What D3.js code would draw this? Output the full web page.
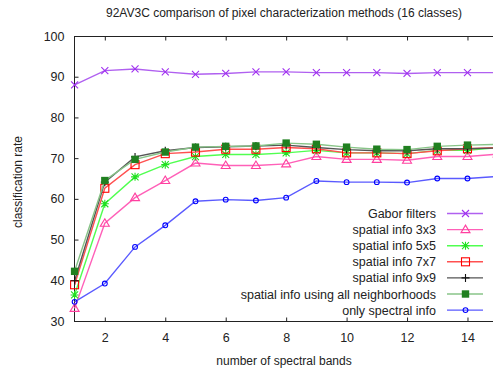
<!DOCTYPE html>
<html><head><meta charset="utf-8">
<script src="https://cdn.jsdelivr.net/npm/d3@7"></script>
<style>body{margin:0;background:#fff}svg{display:block}text{font-family:"Liberation Sans",Arial,sans-serif;fill:#222}</style>
</head><body><svg id="c" width="493" height="371"></svg>
<script>
const bands = [1,2,3,4,5,6,7,8,9,10,11,12,13,14,15];
const gabor    = [88.0,91.5,91.9,91.2,90.6,90.8,91.2,91.2,91.0,91.0,91.0,90.8,91.0,91.0,91.0];
const sp3x3    = [33.1,54.0,60.3,64.5,68.8,68.2,68.2,68.6,70.4,69.7,69.7,69.5,70.4,70.4,71.0];
const sp5x5    = [36.4,58.8,65.4,68.4,70.4,70.9,70.9,71.3,71.9,71.3,71.3,71.1,71.9,71.9,72.6];
const sp7x7    = [38.9,62.6,68.4,71.1,71.5,72.2,72.2,72.6,72.3,71.3,71.3,71.1,71.8,72.3,72.6];
const sp9x9    = [39.9,64.1,70.3,71.8,72.6,72.8,73.0,73.2,72.6,72.1,71.8,71.8,72.3,72.3,72.5];
const spAll    = [42.2,64.5,69.7,71.5,72.7,72.9,73.0,73.7,73.4,72.7,72.2,72.1,72.9,73.2,73.4];
const spectral = [34.7,39.2,48.2,53.5,59.4,59.8,59.6,60.3,64.4,64.1,64.1,64.0,65.0,65.0,65.5];
const seriesNames = ["Gabor filters","spatial info 3x3","spatial info 5x5","spatial info 7x7","spatial info 9x9","spatial info using all neighborhoods","only spectral info"];
const xTicks = [2,4,6,8,10,12,14];
const yTicks = [30,40,50,60,70,80,90,100];
const title = "92AV3C comparison of pixel characterization methods (16 classes)";
const xLabel = "number of spectral bands";
const yLabel = "classification rate";

const styles = [
  {line:"#b060f0", mark:"#a030f0", sym:"x"},
  {line:"#ff60b8", mark:"#ff40a0", sym:"tri"},
  {line:"#50ff50", mark:"#20e020", sym:"star"},
  {line:"#ff5050", mark:"#ff0000", sym:"sq"},
  {line:"#555555", mark:"#111111", sym:"plus"},
  {line:"#88c488", mark:"#208020", sym:"fsq"},
  {line:"#5a5aff", mark:"#0000ff", sym:"circ"}
];
const data = [gabor,sp3x3,sp5x5,sp7x7,sp9x9,spAll,spectral];

const svg = d3.select("#c");
const x = d3.scaleLinear().domain([1,15]).range([74.6,497.7]);
const y = d3.scaleLinear().domain([30,100]).range([321,36]);

// frame
svg.append("line").attr("x1",74).attr("x2",493).attr("y1",36.5).attr("y2",36.5).attr("stroke","#222");
svg.append("line").attr("x1",74).attr("x2",493).attr("y1",321.5).attr("y2",321.5).attr("stroke","#222");
svg.append("line").attr("x1",74.5).attr("x2",74.5).attr("y1",36).attr("y2",322).attr("stroke","#222");

const xAxis = svg.append("g").attr("transform","translate(0,321.5)")
  .call(d3.axisBottom(x).tickValues(xTicks).tickSize(-4).tickPadding(12).tickFormat(d3.format("d")));
const xAxisTop = svg.append("g").attr("transform","translate(0,36.5)")
  .call(d3.axisTop(x).tickValues(xTicks).tickSize(-4).tickFormat(""));
const yAxis = svg.append("g").attr("transform","translate(74.5,0)")
  .call(d3.axisLeft(y).tickValues(yTicks).tickSize(-4).tickPadding(10));
[xAxis,xAxisTop,yAxis].forEach(g=>{g.select(".domain").remove();g.selectAll("line").attr("stroke","#222");g.selectAll("text").attr("font-size","12.5px").attr("fill","#222").attr("font-family","Liberation Sans, Arial, sans-serif");});

svg.append("text").attr("x",284).attr("y",17).attr("text-anchor","middle").attr("font-size","12px").text(title);
svg.append("text").attr("x",284).attr("y",365).attr("text-anchor","middle").attr("font-size","12px").text(xLabel);
svg.append("text").attr("transform","translate(22,182) rotate(-90)").attr("text-anchor","middle").attr("font-size","12px").text(yLabel);

function marker(g, sym, color, cx, cy){
  const s = 3.5;
  if(sym==="x"){
    g.append("path").attr("d",`M${cx-s},${cy-s}L${cx+s},${cy+s}M${cx-s},${cy+s}L${cx+s},${cy-s}`).attr("stroke",color).attr("fill","none");
  } else if(sym==="tri"){
    g.append("path").attr("d",`M${cx},${cy-4.5}L${cx+4.5},${cy+3}L${cx-4.5},${cy+3}Z`).attr("stroke",color).attr("fill","none");
  } else if(sym==="star"){
    g.append("path").attr("d",`M${cx-s},${cy-s}L${cx+s},${cy+s}M${cx-s},${cy+s}L${cx+s},${cy-s}M${cx-s-0.5},${cy}L${cx+s+0.5},${cy}M${cx},${cy-s-0.5}L${cx},${cy+s+0.5}`).attr("stroke",color).attr("fill","none");
  } else if(sym==="sq"){
    g.append("rect").attr("x",cx-4).attr("y",cy-4).attr("width",8).attr("height",8).attr("stroke",color).attr("fill","none");
  } else if(sym==="plus"){
    g.append("path").attr("d",`M${cx-4},${cy}L${cx+4},${cy}M${cx},${cy-4}L${cx},${cy+4}`).attr("stroke",color).attr("fill","none");
  } else if(sym==="fsq"){
    g.append("rect").attr("x",cx-3.7).attr("y",cy-3.7).attr("width",7.4).attr("height",7.4).attr("fill",color);
  } else if(sym==="circ"){
    g.append("circle").attr("cx",cx).attr("cy",cy).attr("r",2.4).attr("stroke",color).attr("fill","none");
  }
}

const line = d3.line().x((d,i)=>x(bands[i])).y(d=>y(d));
const plot = svg.append("g");
data.forEach((vals,k)=>{
  const st = styles[k];
  plot.append("path").datum(vals).attr("d",line).attr("fill","none").attr("stroke",st.line).attr("stroke-width",1.4);
  const mg = plot.append("g").attr("stroke-width",1.1);
  vals.forEach((v,i)=>marker(mg, st.sym, st.mark, x(bands[i]), y(v)));
});

// legend
const leg = svg.append("g");
seriesNames.forEach((name,k)=>{
  const st = styles[k];
  const yy = 213.5 + k*16.1;
  leg.append("rect").attr("x",236).attr("y",yy-7).attr("width",250).attr("height",14).attr("fill","#fff").attr("opacity",0);
  leg.append("text").attr("x",436).attr("y",yy+4.5).attr("text-anchor","end").attr("font-size","12.5px").text(name);
  leg.append("line").attr("x1",447).attr("x2",483).attr("y1",yy).attr("y2",yy).attr("stroke",st.line).attr("stroke-width",1.4);
  const mg = leg.append("g").attr("stroke-width",1.1);
  marker(mg, st.sym, st.mark, 465.5, yy);
});
</script></body></html>
